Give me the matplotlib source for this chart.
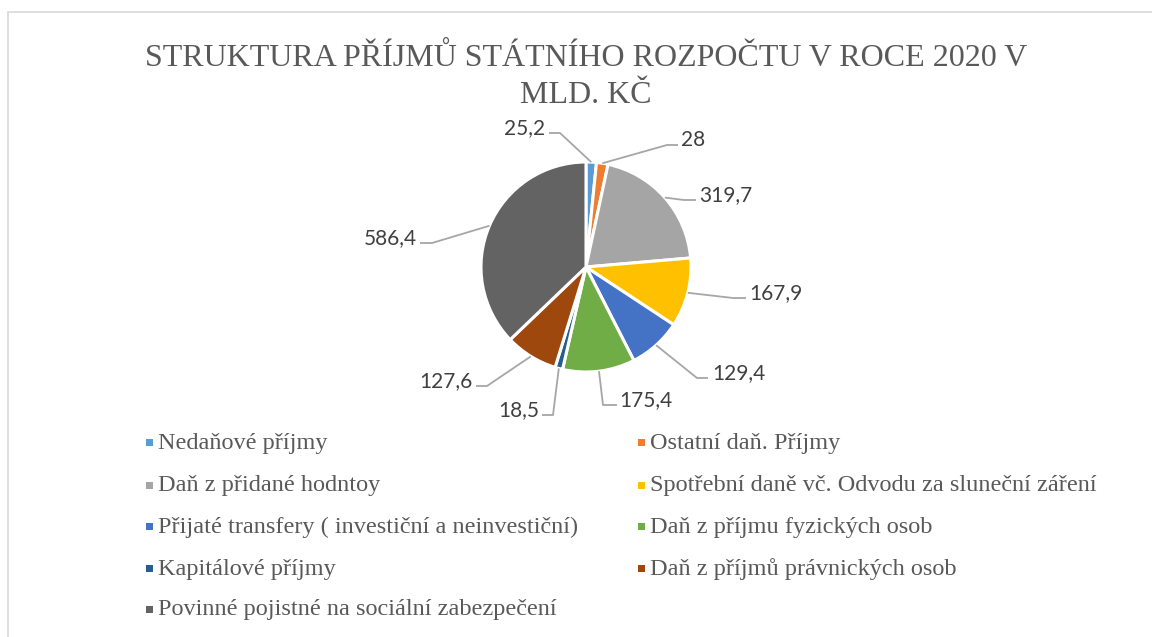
import matplotlib
matplotlib.use("Agg")
import matplotlib.pyplot as plt
from matplotlib import font_manager
from matplotlib.patches import Rectangle
import numpy as np

categories = [
    "Nedaňové příjmy",
    "Ostatní daň. Příjmy",
    "Daň z přidané hodntoy",
    "Spotřební daně vč. Odvodu za sluneční záření",
    "Přijaté transfery ( investiční a neinvestiční)",
    "Daň z příjmu fyzických osob",
    "Kapitálové příjmy",
    "Daň z příjmů právnických osob",
    "Povinné pojistné na sociální zabezpečení",
]
values = [25.2, 28, 319.7, 167.9, 129.4, 175.4, 18.5, 127.6, 586.4]
value_labels = ["25,2", "28", "319,7", "167,9", "129,4", "175,4", "18,5", "127,6", "586,4"]
colors = ["#5B9BD5", "#ED7D31", "#A5A5A5", "#FFC000", "#4472C4",
          "#70AD47", "#255E91", "#9E480E", "#636363"]
title = "STRUKTURA PŘÍJMŮ STÁTNÍHO ROZPOČTU V ROCE 2020 V\nMLD. KČ"

names = {f.name for f in font_manager.fontManager.ttflist}
serif = next((c for c in ["Liberation Serif", "Tinos", "DejaVu Serif"] if c in names), "serif")

W, H = 1152, 637
fig = plt.figure(figsize=(W / 100, H / 100), dpi=100)
ax = fig.add_axes([0, 0, 1, 1])

fig.patches.append(Rectangle((8 / W, -0.1), 1.2, 1 - 12 / H + 0.1, transform=fig.transFigure,
                             fill=False, edgecolor="#D9D9D9", lw=1.2))

cx, cy, R = 586, 267, 105
wedges, _ = ax.pie(values, colors=colors, startangle=-90, counterclock=True,
                   center=(cx, cy), radius=R, frame=True,
                   wedgeprops=dict(edgecolor="white", linewidth=2.2))
ax.set_xlim(0, W)
ax.set_ylim(H, 0)
ax.set_aspect("equal")
ax.axis("off")

label_layout = [
    (560, 133, 549, 545, "right"),
    (667, 145, 678, 681, "left"),
    (684, 200, 696, 699, "left"),
    (733, 298, 746, 749, "left"),
    (697, 378, 708, 712, "left"),
    (603, 405, 617, 619, "left"),
    (553, 415, 542, 539, "right"),
    (487, 386, 476, 473, "right"),
    (432, 243, 420, 417, "right"),
]
for w, lab, (ex, ly, endx, tx, ha) in zip(wedges, value_labels, label_layout):
    ang = np.deg2rad((w.theta1 + w.theta2) / 2)
    px = cx + R * np.cos(ang)
    py = cy + R * np.sin(ang)
    ax.plot([px, ex, endx], [py, ly, ly], color="#A6A6A6", lw=1.3, solid_capstyle="butt")
    ax.text(tx, ly - 5, lab, ha=ha, va="center", fontsize=15, family="Lato", color="#404040")

fig.text(586 / W, 1 - 77 / H, title, ha="center", va="center", fontsize=23,
         family=serif, color="#595959", linespacing=1.35)

col_x = [150, 642]
row_y = [443, 486, 527, 569, 610]
for i, (cat, col) in enumerate(zip(categories, colors)):
    r, c = divmod(i, 2)
    x, y = col_x[c], row_y[r]
    ax.add_patch(Rectangle((x - 4, y - 4), 7, 7, facecolor=col, edgecolor="none"))
    ax.text(x + 8, y, cat, ha="left", va="center", fontsize=17.5,
            family=serif, color="#595959")

fig.savefig("out.png", dpi=100)
